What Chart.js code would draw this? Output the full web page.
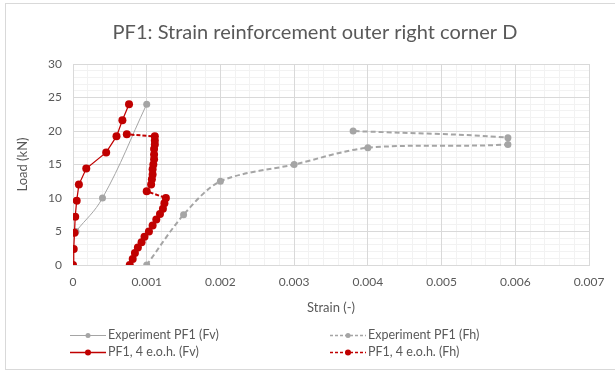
<!DOCTYPE html>
<html>
<head>
<meta charset="utf-8">
<script src="https://cdn.jsdelivr.net/npm/chart.js@4.4.1/dist/chart.umd.min.js"></script>
<style>
  html, body { margin: 0; padding: 0; background: #fff; }
  #wrap { width: 615px; height: 374px; }
</style>
</head>
<body>
<div id="wrap"><canvas id="chart" width="615" height="374"></canvas></div>
<script>
// Data
const expFvStrain = [0.00004, 0.0004, 0.001]
const expFvLoad = [5, 10, 24]

const expFhStrain = [0.001, 0.0015, 0.002, 0.003, 0.004, 0.0059, 0.0059, 0.0038]
const expFhLoad = [0, 7.5, 12.5, 15, 17.5, 18, 19, 20]

const pfFvStrain = [0, 0.00001, 0.00002, 0.00003, 0.00005, 0.00008, 0.00018, 0.00045, 0.00059, 0.00067, 0.00076]
const pfFvLoad = [0, 2.4, 4.8, 7.2, 9.6, 12, 14.4, 16.8, 19.2, 21.6, 24]

const pfFhStrain = [0.00077, 0.00081, 0.00084, 0.00088, 0.00093, 0.00097, 0.00103, 0.00108, 0.00113,
  0.00118, 0.00122, 0.00124, 0.00126, 0.001, 0.00106, 0.00107, 0.00108, 0.00108, 0.00109,
  0.0011, 0.0011, 0.0011, 0.00111, 0.00111, 0.00111, 0.00073]
const pfFhLoad = [0, 0.9, 1.8, 2.6, 3.4, 4.2, 5.0, 5.9, 6.8, 7.6, 8.4, 9.2, 10.0, 11.0,
  12.0, 12.8, 13.5, 14.3, 15.0, 15.8, 16.5, 17.3, 18.0, 18.6, 19.2, 19.5]

const seriesNames = ['Experiment PF1 (Fv)', 'Experiment PF1 (Fh)', 'PF1, 4 e.o.h. (Fv)', 'PF1, 4 e.o.h. (Fh)']
const titleText = 'PF1: Strain reinforcement outer right corner D'
const xTitle = 'Strain (-)'
const yTitle = 'Load (kN)'

const GRAY = '#a5a5a5'
const RED = '#c00000'
const TEXT = '#595959'
const FONT = 'Lato, "Open Sans", sans-serif'

const zip = (xs, ys) => xs.map((x, i) => ({ x: x, y: ys[i] }))

// Legend entries, laid out 2 x 2
const legendItems = [
  { label: seriesNames[0], color: GRAY, dash: [], width: 1, col: 0, row: 0 },
  { label: seriesNames[1], color: GRAY, dash: [3, 2], width: 1.5, col: 1, row: 0 },
  { label: seriesNames[2], color: RED, dash: [], width: 1.5, col: 0, row: 1 },
  { label: seriesNames[3], color: RED, dash: [3, 2], width: 1.5, col: 1, row: 1 },
]

const decorPlugin = {
  id: 'decor',
  beforeDraw(chart) {
    const ctx = chart.ctx
    ctx.save()
    ctx.strokeStyle = '#d9d9d9'
    ctx.lineWidth = 1
    ctx.strokeRect(5.5, 3.5, 640, 366)
    ctx.restore()
  },
  afterDraw(chart) {
    const ctx = chart.ctx
    ctx.save()
    // title
    ctx.fillStyle = TEXT
    ctx.font = '20px ' + FONT
    ctx.textAlign = 'center'
    ctx.textBaseline = 'middle'
    ctx.fillText(titleText, 315, 33)

    // legend
    const colX = [70, 330]
    const rowY = [335, 352]
    ctx.font = '12.5px ' + FONT
    ctx.textAlign = 'left'
    legendItems.forEach(it => {
      const x0 = colX[it.col]
      const y = rowY[it.row]
      ctx.strokeStyle = it.color
      ctx.lineWidth = it.width
      ctx.setLineDash(it.dash)
      ctx.beginPath()
      ctx.moveTo(x0, y + 0.5)
      ctx.lineTo(x0 + 36, y + 0.5)
      ctx.stroke()
      ctx.setLineDash([])
      ctx.fillStyle = it.color
      ctx.beginPath()
      ctx.arc(x0 + 18, y + 0.5, it.color === RED ? 3 : 2.5, 0, Math.PI * 2)
      ctx.fill()
      ctx.fillStyle = TEXT
      ctx.fillText(it.label, x0 + 38, y)
    })
    ctx.restore()
  }
}

new Chart(document.getElementById('chart'), {
  type: 'scatter',
  data: {
    datasets: [
      {
        label: seriesNames[0],
        data: zip(expFvStrain, expFvLoad),
        showLine: true,
        borderColor: GRAY,
        backgroundColor: GRAY,
        borderWidth: 1,
        tension: 0.4,
        pointRadius: 3.5,
        pointBorderWidth: 0,
        order: 2,
      },
      {
        label: seriesNames[1],
        data: zip(expFhStrain, expFhLoad),
        showLine: true,
        borderColor: GRAY,
        backgroundColor: GRAY,
        borderWidth: 2,
        borderDash: [5, 3],
        tension: 0.3,
        pointRadius: 3.5,
        pointBorderWidth: 0,
        order: 2,
      },
      {
        label: seriesNames[2],
        data: zip(pfFvStrain, pfFvLoad),
        showLine: true,
        borderColor: RED,
        backgroundColor: RED,
        borderWidth: 1.25,
        tension: 0,
        pointRadius: 4,
        pointBorderWidth: 0,
        order: 1,
      },
      {
        label: seriesNames[3],
        data: zip(pfFhStrain, pfFhLoad),
        showLine: true,
        borderColor: RED,
        backgroundColor: RED,
        borderWidth: 2,
        borderDash: [4, 2],
        tension: 0,
        pointRadius: 4,
        pointBorderWidth: 0,
        order: 1,
      },
    ]
  },
  options: {
    responsive: false,
    animation: false,
    layout: { padding: { left: 0, right: 26, top: 64, bottom: 57 } },
    plugins: {
      legend: { display: false },
      title: { display: false },
      tooltip: { enabled: false },
    },
    scales: {
      xMinor: {
        type: 'linear', position: 'bottom', min: 0, max: 0.007,
        ticks: { display: false, stepSize: 0.0002, autoSkip: false },
        grid: { color: '#f2f2f2', drawTicks: false },
        border: { display: false },
        afterFit(s) { s.height = 0 },
      },
      yMinor: {
        type: 'linear', position: 'left', min: 0, max: 30,
        ticks: { display: false, stepSize: 1, autoSkip: false },
        grid: { color: '#f2f2f2', drawTicks: false },
        border: { display: false },
        afterFit(s) { s.width = 0 },
      },
      x: {
        type: 'linear', position: 'bottom', min: 0, max: 0.007,
        ticks: {
          stepSize: 0.001, autoSkip: false, padding: 10, color: TEXT,
          font: { family: FONT, size: 12 },
          callback: v => (v === 0 ? '0' : v.toFixed(3)),
        },
        grid: { color: '#d9d9d9', drawTicks: false },
        border: { color: '#d9d9d9' },
        title: { display: true, text: xTitle, color: TEXT, font: { family: FONT, size: 13 }, padding: { top: 0, bottom: 1 } },
        afterFit(s) { s.height = 52 },
      },
      y: {
        type: 'linear', position: 'left', min: 0, max: 30,
        ticks: {
          stepSize: 5, autoSkip: false, padding: 11, color: TEXT,
          font: { family: FONT, size: 12 },
        },
        grid: { color: '#d9d9d9', drawTicks: false },
        border: { color: '#d9d9d9' },
        title: { display: true, text: yTitle, color: TEXT, font: { family: FONT, size: 13 }, padding: { top: 15, bottom: 0 } },
        afterFit(s) { s.width = 73 },
      },
    },
  },
  plugins: [decorPlugin],
})
</script>
</body>
</html>
